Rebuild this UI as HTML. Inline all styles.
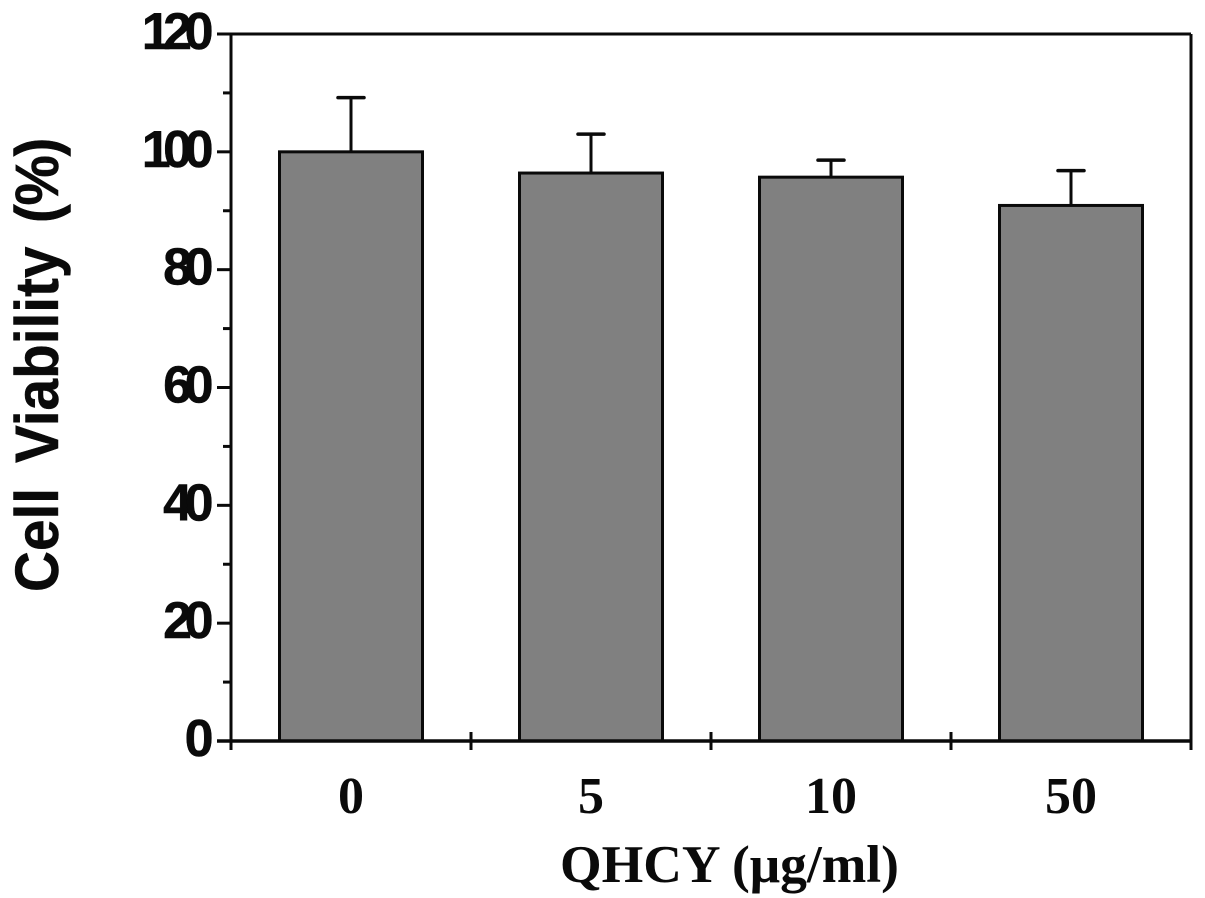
<!DOCTYPE html>
<html lang="en">
<head>
<meta charset="utf-8">
<title>Cell Viability Chart</title>
<style>
html,body{margin:0;padding:0;background:#fff;}
svg{display:block;}
.ylab{font-family:"Liberation Sans",sans-serif;font-weight:bold;font-size:52px;letter-spacing:-7.5px;fill:#0a0a0a;stroke:#0a0a0a;stroke-width:0.5px;}
.xlab{font-family:"Liberation Serif",serif;font-weight:bold;font-size:52px;fill:#0a0a0a;}
</style>
</head>
<body>
<svg id="chart" xmlns="http://www.w3.org/2000/svg" width="1205" height="898" viewBox="0 0 1205 898">
<rect x="0" y="0" width="1205" height="898" fill="#ffffff"/>
<g id="bars"></g>
<g id="axes"></g>
<text transform="translate(58,592) rotate(-90) scale(0.93,1)" font-family="'Liberation Sans',sans-serif" font-weight="bold" font-size="61" fill="#0a0a0a" stroke="#0a0a0a" stroke-width="0.5"><tspan x="0">Cell</tspan><tspan x="138.7">Viability</tspan><tspan x="396.8" letter-spacing="-1.5">(%)</tspan></text>
<text x="560" y="882" font-family="'Liberation Serif',serif" font-weight="bold" font-size="53" fill="#0a0a0a" textLength="339" lengthAdjust="spacingAndGlyphs">QHCY (μg/ml)</text>
</svg>
<script>
var categories = ['0', '5', '10', '50'];
var means = [100, 96.4, 95.7, 90.9];
var errors = [9.2, 6.6, 2.9, 5.9];
var yTicks = [0, 20, 40, 60, 80, 100, 120];
var yMinorTicks = [10, 30, 50, 70, 90, 110];

var NS = 'http://www.w3.org/2000/svg';
var plotLeft = 231, plotRight = 1191, plotTop = 34, plotBottom = 741;
var yMax = 120;
function yScale(v) { return plotBottom - (v / yMax) * (plotBottom - plotTop); }
function bandWidth() { return (plotRight - plotLeft) / categories.length; }
function xCenter(i) { return plotLeft + bandWidth() * (i + 0.5); }
var barWidth = 143;

function make(tag, attrs, parent) {
  var el = document.createElementNS(NS, tag);
  for (var k in attrs) el.setAttribute(k, attrs[k]);
  parent.appendChild(el);
  return el;
}
var barsG = document.getElementById('bars');
var axesG = document.getElementById('axes');
var stroke = '#0a0a0a';

categories.forEach(function (c, i) {
  var cx = xCenter(i);
  var top = yScale(means[i]);
  var errTop = yScale(means[i] + errors[i]);
  var stem = make('line', {x1: cx, x2: cx, y1: top, y2: errTop, stroke: stroke, 'stroke-width': 3}, barsG);
  
  
  var cap = make('line', {x1: cx - 13, x2: cx + 13, y1: errTop, y2: errTop, stroke: stroke, 'stroke-width': 3.5, 'stroke-linecap': 'round'}, barsG);
  
  
  var bar = make('rect', {x: cx - barWidth / 2, y: top, width: barWidth, height: plotBottom - top, fill: '#808080', stroke: stroke, 'stroke-width': 3}, barsG);
  
  
  var lab = make('text', {x: cx, y: 813, 'text-anchor': 'middle', 'class': 'xlab'}, axesG);
  
  
  lab.textContent = c;
});

var topLine = make('line', {x1: plotLeft - 14, x2: plotRight, y1: plotTop, y2: plotTop, stroke: stroke, 'stroke-width': 3}, axesG);


var yAxis = make('line', {x1: plotLeft, x2: plotLeft, y1: plotTop, y2: plotBottom + 9, stroke: stroke, 'stroke-width': 3}, axesG);


var rightLine = make('line', {x1: plotRight, x2: plotRight, y1: plotTop, y2: plotBottom + 9, stroke: stroke, 'stroke-width': 3}, axesG);


var xAxis = make('line', {x1: plotLeft - 14, x2: plotRight, y1: plotBottom, y2: plotBottom, stroke: stroke, 'stroke-width': 3.5}, axesG);



for (var s = 1; s < categories.length; s++) {
  var sx = plotLeft + bandWidth() * s;
  var sep = make('line', {x1: sx, x2: sx, y1: plotBottom - 9, y2: plotBottom + 9, stroke: stroke, 'stroke-width': 3}, axesG);
  
  
}
yTicks.forEach(function (t) {
  var y = yScale(t);
  var tick = make('line', {x1: plotLeft - 14, x2: plotLeft, y1: y, y2: y, stroke: stroke, 'stroke-width': 3}, axesG);
  
  
  var lab = make('text', {x: 206, y: y + 15, 'text-anchor': 'end', 'class': 'ylab'}, axesG);
  
  
  lab.textContent = t;
});
yMinorTicks.forEach(function (t) {
  var y = yScale(t);
  var tick = make('line', {x1: plotLeft - 8, x2: plotLeft, y1: y, y2: y, stroke: stroke, 'stroke-width': 3}, axesG);
  
  
});
</script>
</body>
</html>
